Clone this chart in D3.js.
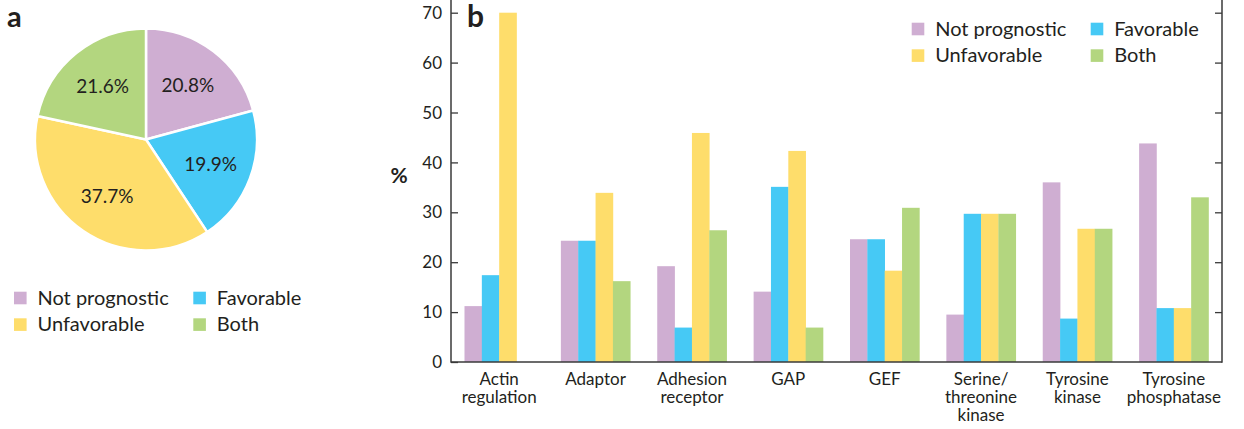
<!DOCTYPE html>
<html><head><meta charset="utf-8">
<script src="https://cdn.jsdelivr.net/npm/d3@7"></script>
<style>body{margin:0;background:#fff}svg{display:block}text{font-family:Lato,"Open Sans",sans-serif;fill:#231f20}</style>
</head><body><svg id="c" width="1244" height="429"></svg>
<script>
const seriesNames = ["Not prognostic", "Favorable", "Unfavorable", "Both"];
const seriesColors = ["#cfaed2", "#46c9f5", "#fedd6b", "#b3d67f"];
const pieValues = [20.8, 19.9, 37.7, 21.6];
const categories = [["Actin","regulation"],["Adaptor"],["Adhesion","receptor"],["GAP"],["GEF"],["Serine/","threonine","kinase"],["Tyrosine","kinase"],["Tyrosine","phosphatase"]];
const notPrognostic = [11.2, 24.3, 19.2, 14.1, 24.6, 9.5, 36.0, 43.8];
const favorable     = [17.4, 24.3, 6.9, 35.1, 24.6, 29.7, 8.7, 10.8];
const unfavorable   = [70.0, 33.9, 45.9, 42.3, 18.3, 29.7, 26.7, 10.8];
const both          = [0, 16.2, 26.4, 6.9, 30.9, 29.7, 26.7, 33.0];
const yTicks = [0,10,20,30,40,50,60,70];

const svg = d3.select("#c");

// ---- Panel a: pie ----
const pg = svg.append("g").attr("transform","translate(146,139.5)");
const pie = d3.pie().sort(null).value(d=>d);
const arc = d3.arc().innerRadius(0).outerRadius(111);
const lab = d3.arc().innerRadius(69).outerRadius(69);
const arcs = pie(pieValues);
pg.selectAll("path").data(arcs).join("path").attr("d",arc)
  .attr("fill",(d,i)=>seriesColors[i]).attr("stroke","#fff").attr("stroke-width",2.5);
pg.selectAll("text").data(arcs).join("text")
  .attr("transform",d=>`translate(${lab.centroid(d)})`)
  .attr("text-anchor","middle").attr("dy","0.36em").attr("font-size",19)
  .text(d=>d.data.toFixed(1)+"%");
svg.append("text").attr("x",7).attr("y",27).attr("font-size",29).attr("font-weight","bold").text("a");

function legend2(x0,y0,colX,rowH){
  const layout=[[0,0,0],[1,1,0],[2,0,1],[3,1,1]];
  layout.forEach(([si,col,row])=>{
    const gx=x0+col*colX, gy=y0+row*rowH;
    svg.append("rect").attr("x",gx).attr("y",gy).attr("width",12.6).attr("height",12.6).attr("fill",seriesColors[si]);
    svg.append("text").attr("x",gx+23.5).attr("y",gy+12.8).attr("font-size",20).text(seriesNames[si]);
  });
}
legend2(14,291.7,179.3,26.6);

// ---- Panel b: bars ----
const x0 = 451, x1 = 1222, yBase = 362, yTop = 0;
const x = d3.scaleBand().domain(d3.range(categories.length)).range([x0,x1]).paddingInner(0.28).paddingOuter(0.14);
const xs = d3.scaleBand().domain(d3.range(4)).range([0,x.bandwidth()]);
const y = d3.scaleLinear().domain([0,70]).range([yBase,12.7]);
const seriesVals = [notPrognostic, favorable, unfavorable, both];

const bg = svg.append("g");
categories.forEach((c,ci)=>{
  seriesVals.forEach((vals,si)=>{
    const v = vals[ci];
    if(v<=0) return;
    bg.append("rect").attr("x",x(ci)+xs(si)).attr("width",xs.bandwidth()+0.3)
      .attr("y",y(v)).attr("height",yBase-y(v)).attr("fill",seriesColors[si]);
  });
});

const axisColor = "#3a3a3a";
const la = svg.append("g").attr("transform",`translate(${x0},0)`)
  .call(d3.axisRight(y).tickValues(yTicks).tickSize(7).tickFormat(""));
la.select(".domain").remove();
la.selectAll("line").attr("stroke",axisColor).attr("stroke-width",1.3);
svg.append("g").selectAll("text").data(yTicks).join("text")
  .attr("x",x0-9).attr("y",d=>y(d)).attr("dy","0.36em").attr("text-anchor","end").attr("font-size",17).text(d=>d);
const ra = svg.append("g").attr("transform",`translate(${x1},0)`)
  .call(d3.axisLeft(y).tickValues(yTicks.filter(t=>t>0)).tickSize(7).tickFormat(""));
ra.select(".domain").remove();
ra.selectAll("line").attr("stroke",axisColor).attr("stroke-width",1.3);
svg.append("line").attr("x1",x0).attr("x2",x0).attr("y1",yTop).attr("y2",yBase+0.7).attr("stroke",axisColor).attr("stroke-width",1.5);
svg.append("line").attr("x1",x1).attr("x2",x1).attr("y1",yTop).attr("y2",yBase+0.7).attr("stroke",axisColor).attr("stroke-width",1.5);
svg.append("line").attr("x1",x0).attr("x2",x1).attr("y1",yBase).attr("y2",yBase).attr("stroke",axisColor).attr("stroke-width",1.5);

categories.forEach((c,ci)=>{
  const t = svg.append("text").attr("text-anchor","middle").attr("font-size",17);
  c.forEach((line,li)=>{
    t.append("tspan").attr("x",x(ci)+x.bandwidth()/2).attr("y",385+li*17.8).text(line);
  });
});

svg.append("text").attr("x",399).attr("y",183).attr("text-anchor","middle").attr("font-size",21).attr("font-weight","bold").text("%");
svg.append("text").attr("x",467).attr("y",27).attr("font-size",30).attr("font-weight","bold").text("b");

legend2(911.7,22.7,179,26.6);
</script></body></html>
